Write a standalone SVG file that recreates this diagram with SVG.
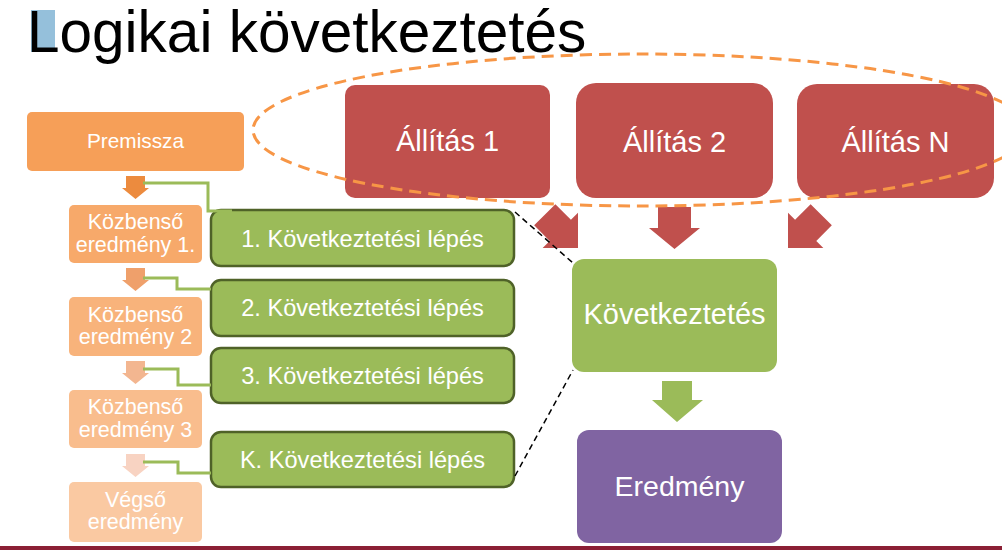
<svg xmlns="http://www.w3.org/2000/svg" width="1002" height="550" viewBox="0 0 1002 550">
<style>
text{font-family:"Liberation Sans",Arial,sans-serif;fill:#fff;text-anchor:middle}
.title{fill:#000;text-anchor:start;font-size:58.5px}
.org{font-size:21.5px}
.step{font-size:23.6px}
.red{fill:#C0504D}
.stepbox{fill:#9BBB59;stroke:#4F6228;stroke-width:2.5}
.conn{fill:none;stroke:#9BBB59;stroke-width:3}
.dash{fill:none;stroke:#000;stroke-width:1.5;stroke-dasharray:6 4}
</style>
<defs>
<path id="smallArrow" d="M-9.5,0 H9.5 V12 H13.5 L0,23 L-13.5,12 H-9.5 Z"/>
<path id="bigArrow" d="M-15,-47 H15 V-25 H25 L0,0 L-25,-25 H-15 Z"/>
</defs>
<rect width="1002" height="550" fill="#fff"/>
<g id="title">
<rect x="31" y="10" width="24" height="42" fill="#95C0DB"/>
<text class="title" x="27" y="52">Logikai következtetés</text>
</g>
<g id="premissza">
<rect x="27" y="112" width="217" height="59" rx="5" fill="#F69F58"/>
<text x="135.5" y="148" font-size="20.8">Premissza</text>
</g>
<g id="kozbenso1">
<rect x="69" y="205" width="133" height="58" rx="5" fill="#F7A96A"/>
<text class="org" x="135.5" y="229">Közbenső</text>
<text class="org" x="135.5" y="252">eredmény 1.</text>
</g>
<g id="kozbenso2">
<rect x="69" y="297" width="133" height="59" rx="5" fill="#F8B37B"/>
<text class="org" x="135.5" y="322">Közbenső</text>
<text class="org" x="135.5" y="344">eredmény 2</text>
</g>
<g id="kozbenso3">
<rect x="69" y="390" width="133" height="58" rx="5" fill="#F9BD8D"/>
<text class="org" x="135.5" y="414">Közbenső</text>
<text class="org" x="135.5" y="437">eredmény 3</text>
</g>
<g id="vegso">
<rect x="69" y="482" width="133" height="60" rx="5" fill="#FAC9A2"/>
<text class="org" x="135.5" y="507">Végső</text>
<text class="org" x="135.5" y="529">eredmény</text>
</g>
<g id="step1">
<rect class="stepbox" x="211" y="210" width="303" height="56" rx="10"/>
<text class="step" x="362.5" y="247">1. Következtetési lépés</text>
</g>
<g id="step2">
<rect class="stepbox" x="211" y="280" width="303" height="56" rx="10"/>
<text class="step" x="362.5" y="316">2. Következtetési lépés</text>
</g>
<g id="step3">
<rect class="stepbox" x="211" y="348" width="303" height="55" rx="10"/>
<text class="step" x="362.5" y="384">3. Következtetési lépés</text>
</g>
<g id="stepK">
<rect class="stepbox" x="211" y="432" width="303" height="55" rx="10"/>
<text class="step" x="362.5" y="468">K. Következtetési lépés</text>
</g>
<g id="allitas1">
<rect class="red" x="345" y="85" width="205" height="113" rx="10"/>
<text x="447.5" y="151" font-size="29">Állítás 1</text>
</g>
<g id="allitas2">
<rect class="red" x="576" y="83" width="197" height="115" rx="20"/>
<text x="674.5" y="152" font-size="29">Állítás 2</text>
</g>
<g id="allitasN">
<rect class="red" x="797" y="84" width="197" height="114" rx="20"/>
<text x="895.5" y="152" font-size="29">Állítás N</text>
</g>
<g id="kovetkeztetes">
<rect x="572" y="259" width="205" height="113" rx="12" fill="#9BBB59"/>
<text x="674.5" y="324" font-size="29">Következtetés</text>
</g>
<g id="eredmeny">
<rect x="577" y="430" width="205" height="113" rx="12" fill="#8064A2"/>
<text x="679.5" y="496" font-size="28.5">Eredmény</text>
</g>
<g id="connectors">
<use href="#smallArrow" transform="translate(135.5,176)" fill="#EC8B3E"/>
<use href="#smallArrow" transform="translate(135.5,268)" fill="#EFA06B"/>
<use href="#smallArrow" transform="translate(135.5,361)" fill="#F3B690"/>
<use href="#smallArrow" transform="translate(135.5,454)" fill="#F8D3C2"/>
<path class="conn" d="M143,183 H208 V211 H232"/>
<path class="conn" d="M143,278 H177 V289 H211"/>
<path class="conn" d="M143,369 H178 V385 H211"/>
<path class="conn" d="M143,462 H178 V473 H211"/>
<use href="#bigArrow" class="red" transform="translate(578,248) rotate(-45)"/>
<polygon class="red" points="658,207 691,207 691,228 700,228 674.5,249 649,228 658,228"/>
<use href="#bigArrow" class="red" transform="translate(788,248) rotate(45)"/>
<polygon points="662,381 692,381 692,400 703,400 677,422 652,400 662,400" fill="#9BBB59"/>
<line class="dash" x1="515" y1="212" x2="573" y2="263"/>
<line class="dash" x1="515" y1="476" x2="573" y2="370"/>
<ellipse cx="641" cy="130" rx="388" ry="76" fill="none" stroke="#F79646" stroke-width="3" stroke-dasharray="12 7"/>
</g>
<rect x="0" y="546" width="1002" height="4" fill="#8B1F35"/>
</svg>
